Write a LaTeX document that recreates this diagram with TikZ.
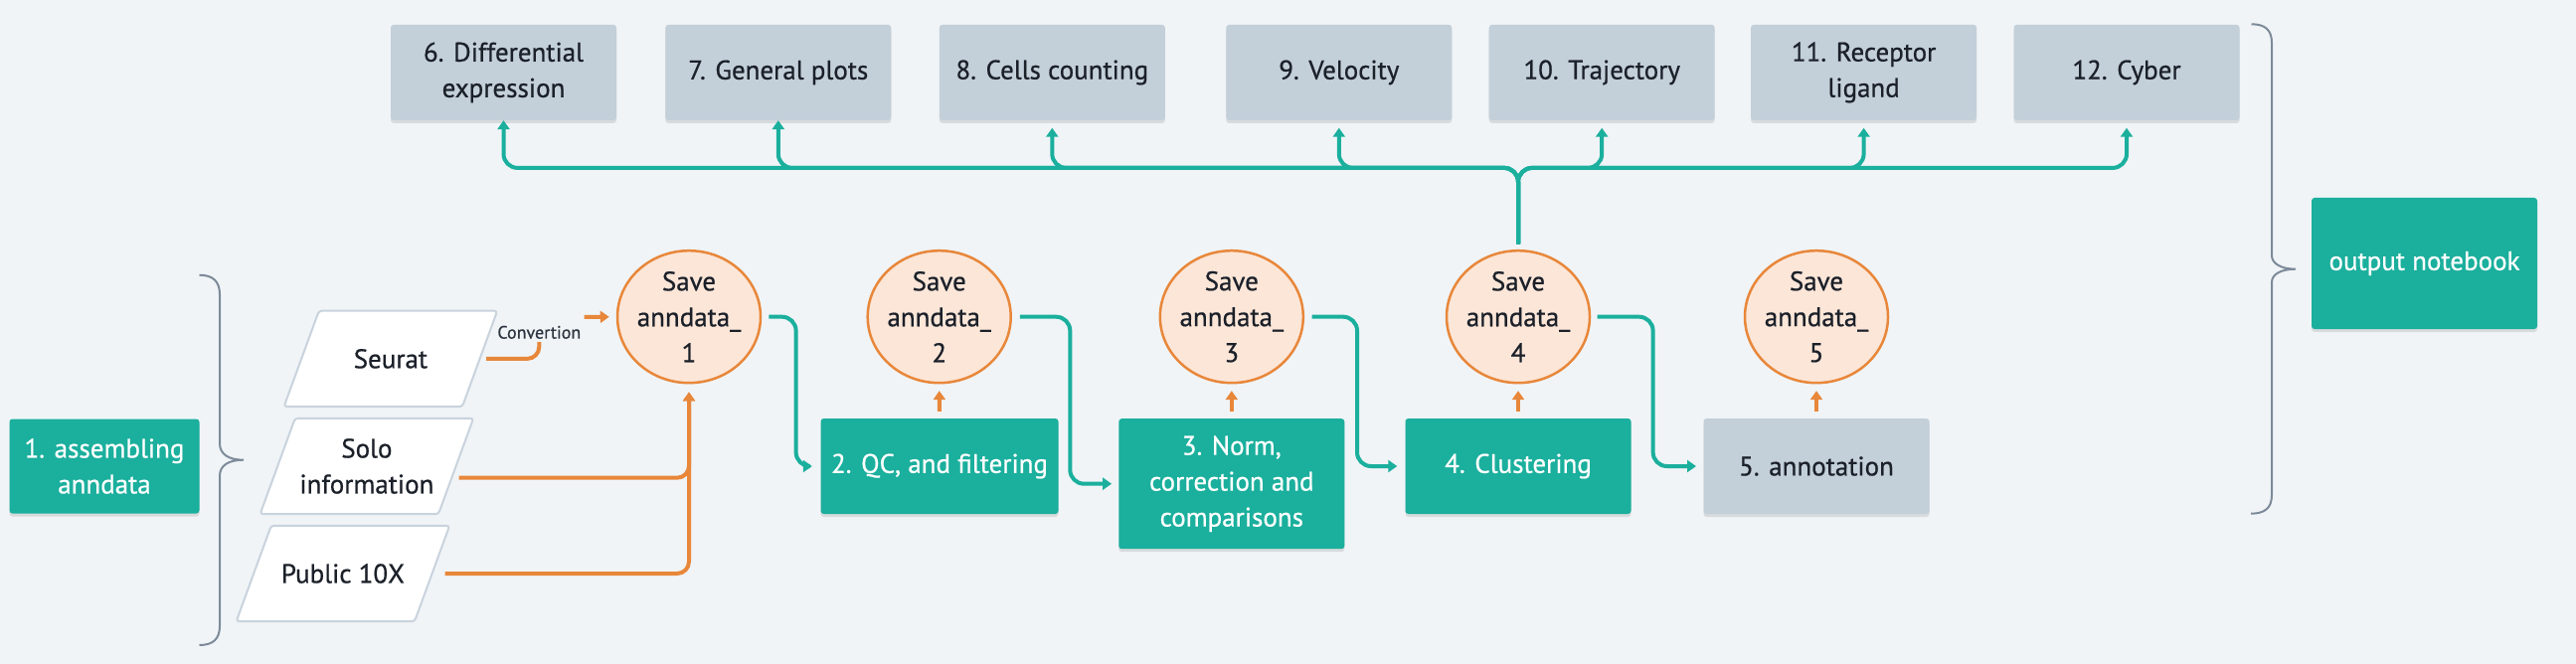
\documentclass[tikz,border=0pt]{standalone}
\usepackage{fontspec}
\setmainfont{PT Sans}[FakeBold=0.6]
\usetikzlibrary{shapes.geometric,arrows.meta,shadows,backgrounds}
\definecolor{bgc}{HTML}{F0F4F7}
\definecolor{tealc}{HTML}{1BAF9D}
\definecolor{grayc}{HTML}{C3CFD9}
\definecolor{orangec}{HTML}{E8873A}
\definecolor{circfill}{HTML}{FCE6D8}
\definecolor{txtc}{HTML}{1B2029}
\definecolor{convc}{HTML}{2D3540}
\definecolor{bracec}{HTML}{7D8A99}
\definecolor{parab}{HTML}{C9D3DD}
\begin{document}
\begin{tikzpicture}[x=1pt,y=-1pt,
  every node/.style={font=\fontsize{27}{36}\selectfont, align=center, inner sep=0pt},
  boxbase/.style={rectangle, rounded corners=3pt, minimum width=227pt, minimum height=96pt,
    drop shadow={shadow xshift=0pt, shadow yshift=-3pt, opacity=0.10, fill=black}},
  tealbox/.style={boxbase, fill=tealc, text=white},
  graybox/.style={boxbase, fill=grayc, text=txtc},
  para/.style={rectangle, minimum width=179pt, minimum height=96pt, text=txtc},
  parashape/.style={draw=parab, line width=2pt, fill=white, rounded corners=3pt},
  savecirc/.style={ellipse, minimum width=144pt, minimum height=133pt,
    draw=orangec, line width=2.5pt, fill=circfill},
  savetext/.style={text=txtc},
  oline/.style={draw=orangec, line width=4pt, rounded corners=12pt},
  oarrow/.style={oline, -{Triangle[length=9pt,width=12pt]}},
  tarrow/.style={draw=tealc, line width=4pt, rounded corners=14pt, -{Triangle[length=9pt,width=12pt]}},
  bracel/.style={draw=bracec, line width=2pt},
]
\useasboundingbox (0,0) rectangle (2591,668);
\begin{scope}[on background layer]
  \fill[bgc] (0,0) rectangle (2591,668);
\end{scope}

% left column
\node[tealbox, minimum width=191pt, minimum height=95pt] (b1) at (105,469) {1. assembling\\anndata};
\node[para] (seurat) at (392.9,360.9) {Seurat};
\node[para] (solo) at (368.9,469) {Solo\\information};
\node[para] (public) at (344.9,577) {Public 10X};
\begin{scope}[on background layer]
  \foreach \p in {seurat, solo, public}
    \path[parashape] ([xshift=17.6pt]\p.north west) -- ([xshift=17.6pt]\p.north east)
      -- ([xshift=-17.6pt]\p.south east) -- ([xshift=-17.6pt]\p.south west) -- cycle;
\end{scope}

% save circles
\node[savecirc] (c1) at (693,318.7) {};
\node[savetext] (t1) at (c1) {Save\\anndata\_\\1};
\node[savecirc] (c2) at (944.7,318.7) {};
\node[savetext] (t2) at (c2) {Save\\anndata\_\\2};
\node[savecirc] (c3) at (1238.8,318.7) {};
\node[savetext] (t3) at (c3) {Save\\anndata\_\\3};
\node[savecirc] (c4) at (1527,318.7) {};
\node[savetext] (t4) at (c4) {Save\\anndata\_\\4};
\node[savecirc] (c5) at (1827,318.7) {};
\node[savetext] (t5) at (c5) {Save\\anndata\_\\5};

% pipeline boxes
\node[tealbox, minimum width=239pt] (b2) at (945,469) {2. QC, and filtering};
\node[tealbox, minimum height=131pt] (b3) at (1238.8,486.7) {3. Norm,\\correction and\\comparisons};
\node[tealbox] (b4) at (1527,469) {4. Clustering};
\node[graybox] (b5) at (1827,469) {5. annotation};

% output boxes
\node[graybox] (b6) at (506.5,72.9) {6. Differential\\expression};
\node[graybox] (b7) at (782.8,72.9) {7. General plots};
\node[graybox] (b8) at (1058.3,72.9) {8. Cells counting};
\node[graybox] (b9) at (1346.8,72.9) {9. Velocity};
\node[graybox] (b10) at (1611.2,72.9) {10. Trajectory};
\node[graybox] (b11) at (1874.6,72.9) {11. Receptor\\ligand};
\node[graybox] (b12) at (2139,72.9) {12. Cyber};
\node[tealbox, minimum height=132pt] (out) at (2438.5,265) {output notebook};

% conversion label
\node[font=\fontsize{18}{22}\selectfont, text=convc] (conv) at (542.3,334.3) {Convertion};
\coordinate (convout) at (587.7,319);

% orange connectors
\draw[oline, shorten <=6.6pt] (seurat.east) -| ([yshift=-3pt]conv.south);
\draw[oarrow, shorten >=7pt] (convout) -- (c1.west);
\draw[oarrow, shorten <=3pt, shorten >=8pt] ([yshift=-11.7pt]solo.east) -| (c1.south);
\draw[oarrow, shorten <=13pt, shorten >=8pt] (public.east) -| (c1.south);
\draw[oarrow, shorten <=7pt, shorten >=6.7pt] (b2.north) -- (c2.south);
\draw[oarrow, shorten <=7pt, shorten >=6.7pt] (b3.north) -- (c3.south);
\draw[oarrow, shorten <=7pt, shorten >=6.7pt] (b4.north) -- (c4.south);
\draw[oarrow, shorten <=7pt, shorten >=6.7pt] (b5.north) -- (c5.south);

% teal pipeline connectors
\draw[tarrow, shorten <=7pt, shorten >=8.5pt] (c1.east) -| ([xshift=-24.7pt]b2.west) -- (b2.west);
\draw[tarrow, shorten <=8pt, shorten >=7pt] (c2.east) -| ([xshift=-48.8pt]b3.west) -- (b3.west);
\draw[tarrow, shorten <=7.5pt, shorten >=8pt] (c3.east) -| ([xshift=-48.3pt]b4.west) -- (b4.west);
\draw[tarrow, shorten <=6.3pt, shorten >=7.3pt] (c4.east) -| ([xshift=-50.7pt]b5.west) -- (b5.west);

% teal bus to outputs
\foreach \b/\s in {b6/0pt, b7/0pt, b8/7.6pt, b9/7.6pt, b10/7.6pt, b11/7.6pt, b12/7.6pt}
  \draw[tarrow, shorten <=5.6pt, shorten >=\s] (c4.north) |- ([yshift=-47.8pt]\b.south) -- (\b.south);

% braces
\draw[bracel] (200.5,276.7) .. controls (214,276.7) and (221,283) .. (221,296)
  -- (221,446) .. controls (221,457) and (230,462.7) .. (245,462.7)
  .. controls (230,462.7) and (221,468) .. (221,479)
  -- (221,630) .. controls (221,643) and (214,649) .. (200.5,649);
\draw[bracel] (2264.5,24.3) .. controls (2278,24.3) and (2285,30) .. (2285,43)
  -- (2285,257) .. controls (2285,265) and (2294,270.7) .. (2309,270.7)
  .. controls (2294,270.7) and (2285,276) .. (2285,284)
  -- (2285,498) .. controls (2285,511) and (2278,516.7) .. (2264,516.7);
\end{tikzpicture}
\end{document}
